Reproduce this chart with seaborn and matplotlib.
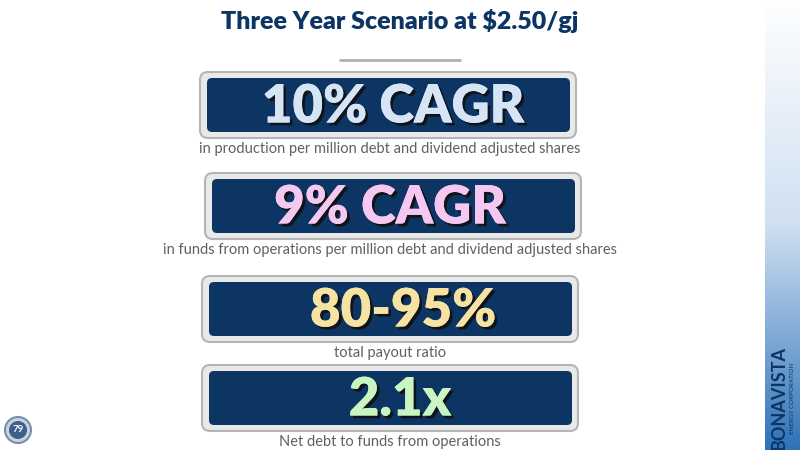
import numpy as np
import matplotlib.pyplot as plt
import matplotlib.patheffects as pe
import seaborn as sns
from matplotlib.patches import FancyBboxPatch, Circle

sns.set_theme(style="white")
plt.rcParams['font.family'] = ['Lato', 'DejaVu Sans']

# slide content
title = "Three Year Scenario at $2.50/gj"
headlines = ["10% CAGR", "9% CAGR", "80-95%", "2.1x"]
captions = ["in production per million debt and dividend adjusted shares",
            "in funds from operations per million debt and dividend adjusted shares",
            "total payout ratio",
            "Net debt to funds from operations"]
headline_colors = ["#d5e5f6", "#f5c8f1", "#f6e2a2", "#c9f5c2"]
box_lefts = [200, 205, 202, 202]
box_tops = [72, 173, 276, 365]
text_x = [393, 390, 403, 400]
page_number = "79"

navy = "#0d3563"
fig = plt.figure(figsize=(8, 4.5), dpi=100)
ax = fig.add_axes([0, 0, 1, 1])
ax.set_xlim(0, 800)
ax.set_ylim(450, 0)
ax.axis("off")

ax.text(400, 21, title, ha="center", va="center", fontsize=18, fontweight="heavy", color=navy)
ax.plot([340, 460], [60, 60], color="#b0b0b0", lw=2)

shadow = [pe.withSimplePatchShadow(offset=(2, -2), shadow_rgbFace="#111111", alpha=0.9), pe.Normal()]
for left, top, head, col, cap, tx in zip(box_lefts, box_tops, headlines, headline_colors, captions, text_x):
    outer = FancyBboxPatch((left, top), 376, 66, boxstyle="round,pad=0,rounding_size=8",
                           fc="#e9e9e9", ec="#b5b5b5", lw=1.5)
    inner = FancyBboxPatch((left + 7, top + 6), 363, 54, boxstyle="round,pad=0,rounding_size=5",
                           fc=navy, ec="none")
    ax.add_patch(outer)
    ax.add_patch(inner)
    ax.text(tx, top + 35, head, ha="center", va="center", fontsize=38, fontweight="heavy", color=col,
            path_effects=shadow)
    ax.text(390, top + 77, cap, ha="center", va="center", fontsize=10.5, color="#606060")

# right gradient strip
grad = np.linspace(0, 1, 256).reshape(-1, 1)
ax.imshow(grad, extent=[765, 800, 450, 0], cmap=sns.blend_palette(["#ffffff", "#cfe0f2", "#2f72b8"], as_cmap=True),
          aspect="auto", zorder=1)
ax.text(779, 398, "BONAVISTA", rotation=90, ha="center", va="center", fontsize=13, fontweight="bold", color=navy, zorder=2)
ax.text(793, 398, "ENERGY CORPORATION", rotation=90, ha="center", va="center", fontsize=4.5, color=navy, zorder=2)

ax.add_patch(Circle((18, 430), 13, fc="#c8d4e2", ec="#7a8ea8", lw=1.5))
ax.add_patch(Circle((18, 430), 9, fc="#3d5f8a", ec="none"))
ax.text(18, 430, page_number, ha="center", va="center", fontsize=7, color="white", fontweight="bold")

fig.savefig("out.png", dpi=100)
